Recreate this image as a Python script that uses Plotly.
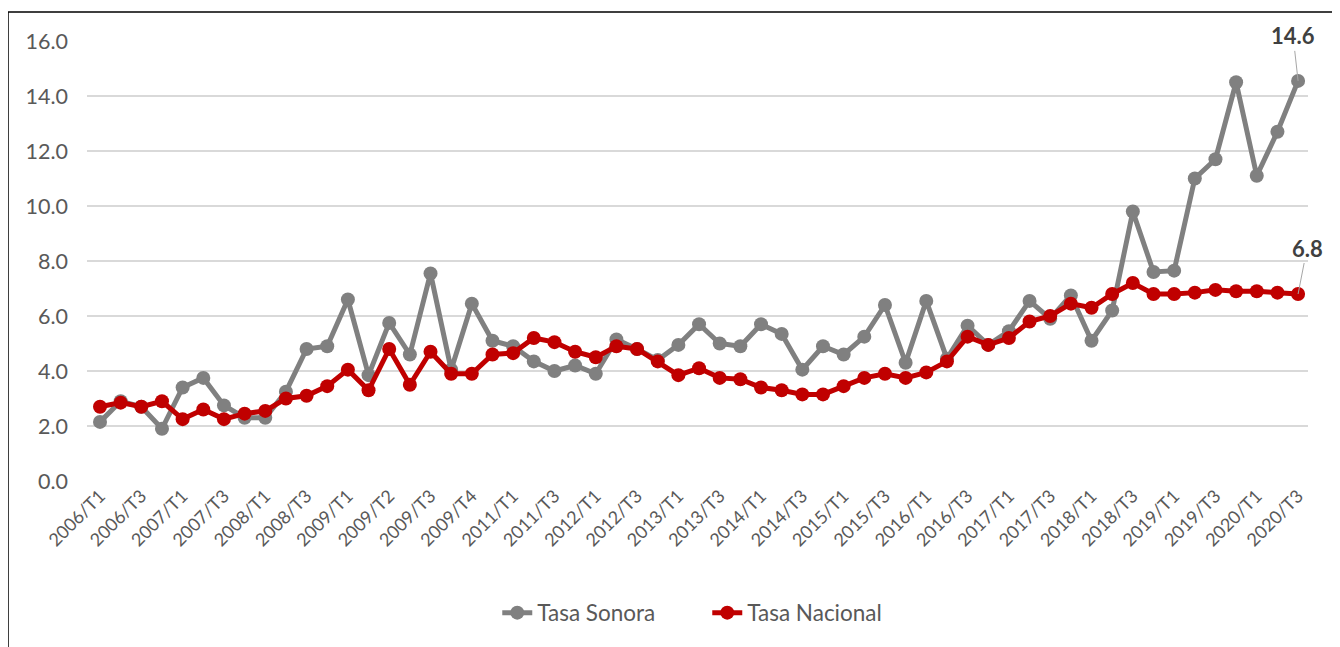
import plotly.graph_objects as go

quarters = [f"{y}/T{q}" for y in range(2006, 2021) for q in range(1, 5)][:59]

tick_labels = ["2006/T1", "2006/T3", "2007/T1", "2007/T3", "2008/T1", "2008/T3",
               "2009/T1", "2009/T2", "2009/T3", "2009/T4", "2011/T1", "2011/T3",
               "2012/T1", "2012/T3", "2013/T1", "2013/T3", "2014/T1", "2014/T3",
               "2015/T1", "2015/T3", "2016/T1", "2016/T3", "2017/T1", "2017/T3",
               "2018/T1", "2018/T3", "2019/T1", "2019/T3", "2020/T1", "2020/T3"]

tasa_sonora = [2.15, 2.9, 2.7, 1.9, 3.4, 3.75, 2.75, 2.3, 2.3, 3.25,
               4.8, 4.9, 6.6, 3.85, 5.75, 4.6, 7.55, 4.05, 6.45, 5.1,
               4.9, 4.35, 4.0, 4.2, 3.9, 5.15, 4.8, 4.4, 4.95, 5.7,
               5.0, 4.9, 5.7, 5.35, 4.05, 4.9, 4.6, 5.25, 6.4, 4.3,
               6.55, 4.45, 5.65, 4.95, 5.45, 6.55, 5.9, 6.75, 5.1, 6.2,
               9.8, 7.6, 7.65, 11.0, 11.7, 14.5, 11.1, 12.7, 14.55]

tasa_nacional = [2.7, 2.85, 2.7, 2.9, 2.25, 2.6, 2.25, 2.45, 2.55, 3.0,
                 3.1, 3.45, 4.05, 3.3, 4.8, 3.5, 4.7, 3.9, 3.9, 4.6,
                 4.65, 5.2, 5.05, 4.7, 4.5, 4.9, 4.8, 4.35, 3.85, 4.1,
                 3.75, 3.7, 3.4, 3.3, 3.15, 3.15, 3.45, 3.75, 3.9, 3.75,
                 3.95, 4.35, 5.25, 4.95, 5.2, 5.8, 6.0, 6.45, 6.3, 6.8,
                 7.2, 6.8, 6.8, 6.85, 6.95, 6.9, 6.9, 6.85, 6.8]

y_ticks = [0, 2, 4, 6, 8, 10, 12, 14, 16]

GRAY = "#808080"
RED = "#C00000"
FONT = "Lato"

fig = go.Figure()
fig.add_trace(go.Scatter(x=quarters, y=tasa_sonora, name="Tasa Sonora", mode="lines+markers",
                         line=dict(color=GRAY, width=5), marker=dict(color=GRAY, size=14),
                         cliponaxis=False))
fig.add_trace(go.Scatter(x=quarters, y=tasa_nacional, name="Tasa Nacional", mode="lines+markers",
                         line=dict(color=RED, width=5), marker=dict(color=RED, size=14),
                         cliponaxis=False))

fig.add_annotation(x=quarters[-1], y=tasa_sonora[-1], text=f"<b>{round(tasa_sonora[-1], 1)}</b>",
                   showarrow=True, arrowhead=0, arrowwidth=1, arrowcolor="#A6A6A6",
                   ax=-5, ay=-45, font=dict(family=FONT, size=22, color="#404040"))
fig.add_annotation(x=quarters[-1], y=tasa_nacional[-1], text=f"<b>{round(tasa_nacional[-1], 1)}</b>",
                   showarrow=True, arrowhead=0, arrowwidth=1, arrowcolor="#A6A6A6",
                   ax=9, ay=-46, font=dict(family=FONT, size=22, color="#404040"))

# outer frame
fig.add_shape(type="rect", xref="paper", yref="paper", x0=-0.0647, x1=1.0229, y0=-0.6, y1=1.0659,
              line=dict(color="black", width=1.5), fillcolor="rgba(0,0,0,0)", layer="below")

fig.update_layout(
    width=1324, height=639, autosize=False,
    margin=dict(l=79, r=24, t=33, b=166),
    paper_bgcolor="white", plot_bgcolor="white",
    font=dict(family=FONT, color="#595959"),
    showlegend=True,
    legend=dict(orientation="h", x=0.508, xanchor="center", y=-0.3, yanchor="middle",
                font=dict(family=FONT, size=22.5, color="#595959"),
                entrywidth=165, entrywidthmode="pixels"),
    xaxis=dict(type="category", categoryorder="array", categoryarray=quarters,
               range=[-0.63, 58.48], tickmode="array", tickvals=quarters[::2],
               ticktext=tick_labels, tickangle=-45, tickfont=dict(size=18, color="#595959"),
               showgrid=False, showline=False, zeroline=False, ticks=""),
    yaxis=dict(range=[0, 16], tickvals=y_ticks, ticktext=[f"{v:.1f}" for v in y_ticks],
               tickfont=dict(size=21.5, color="#595959"), showgrid=True, gridcolor="#D9D9D9",
               gridwidth=1.5, zeroline=False, showline=False, ticks="", ticklabelstandoff=18),
)

fig.write_html("out.html")
